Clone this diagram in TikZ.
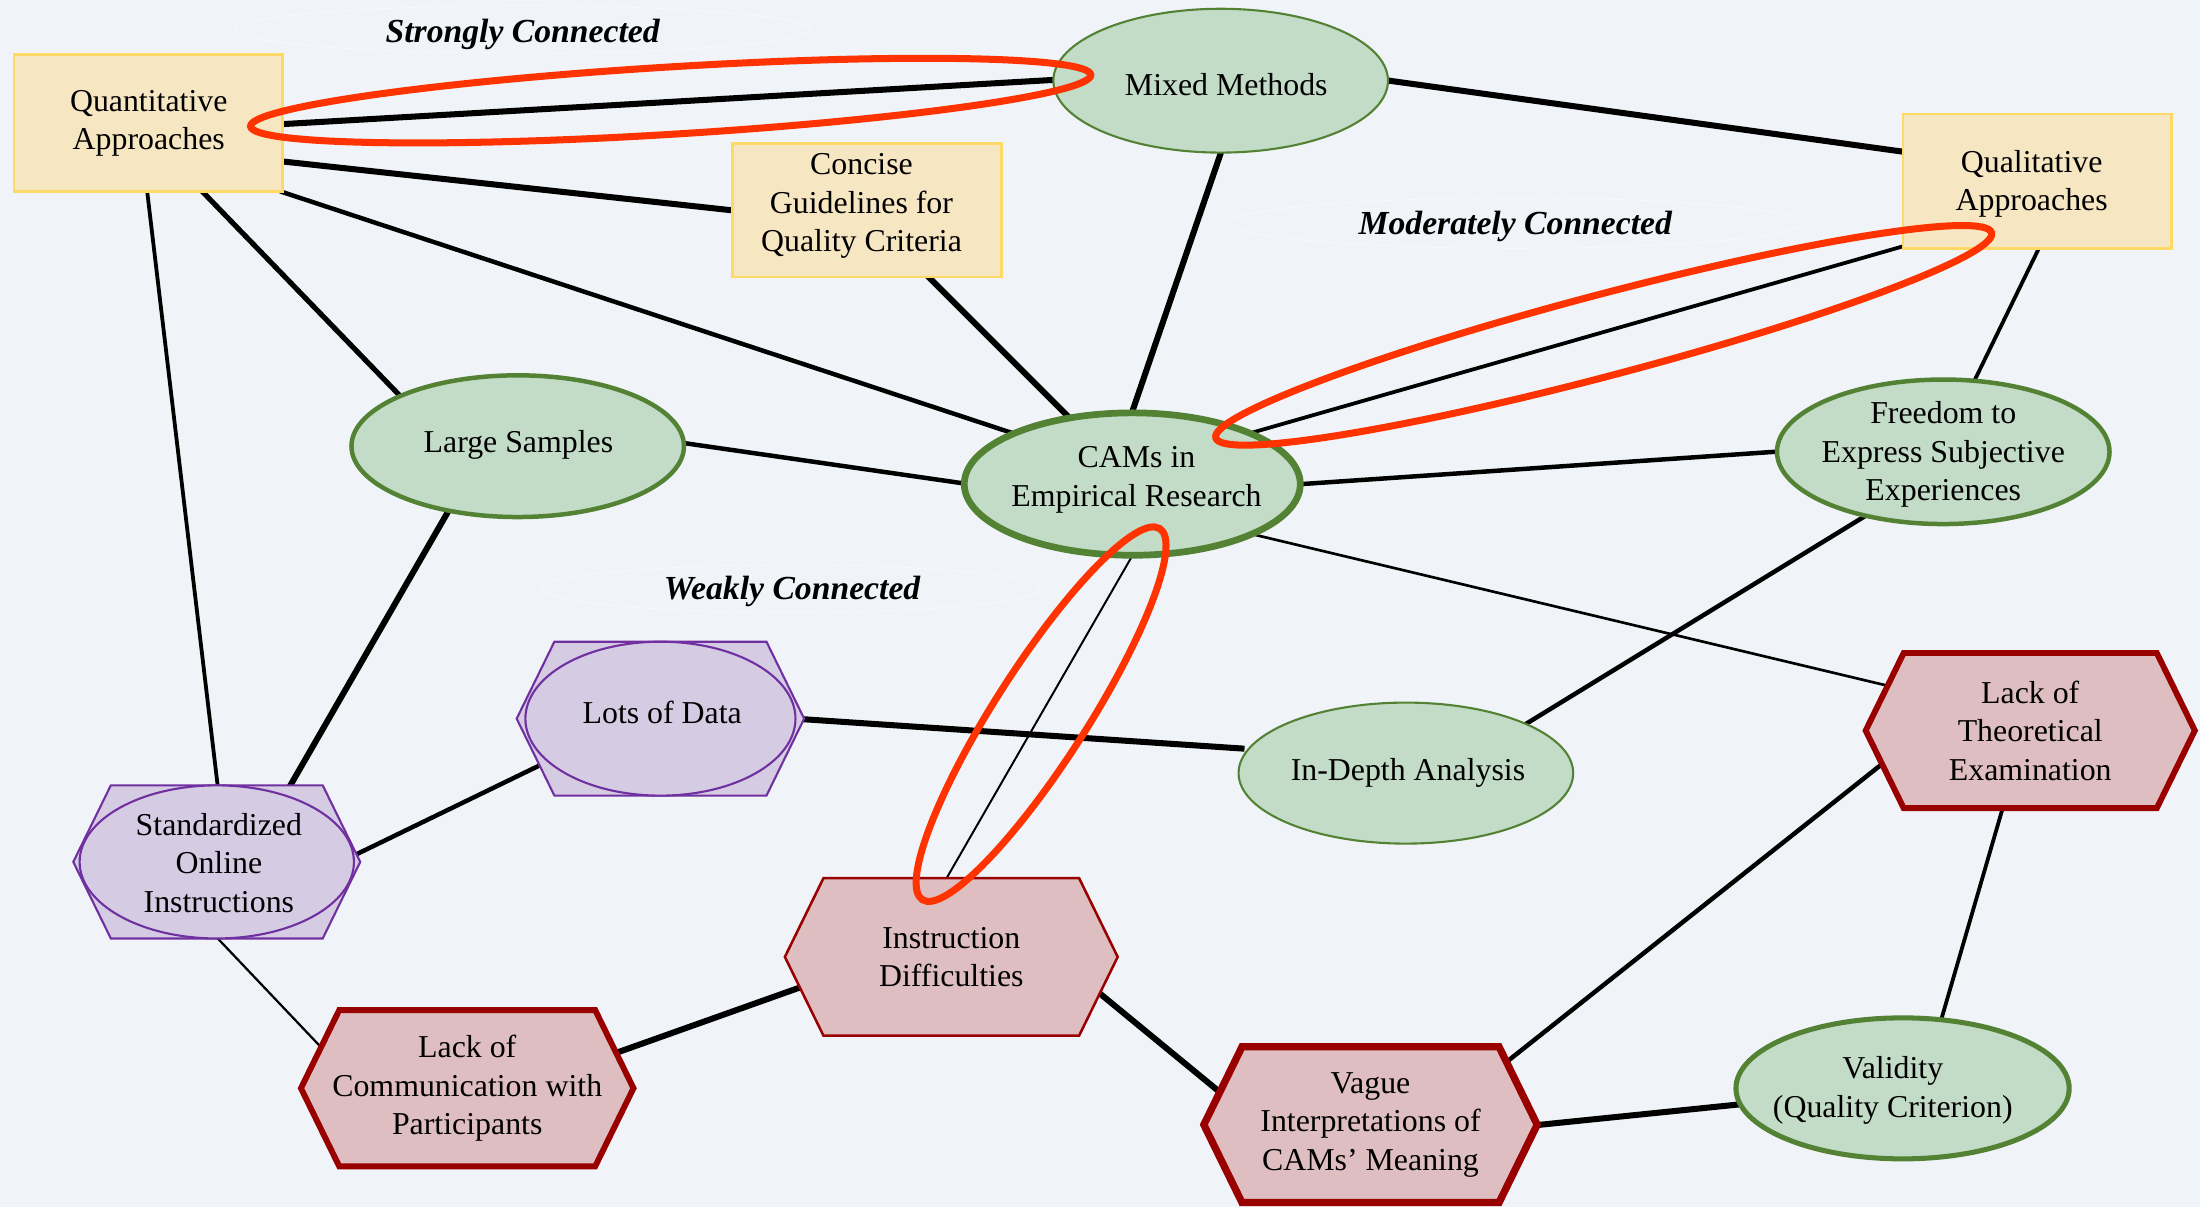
\documentclass[tikz,border=0pt]{standalone}
\usepackage{fontspec}
\setmainfont{Liberation Serif}
\usetikzlibrary{shapes.geometric,calc}

\definecolor{pagebg}{RGB}{240,244,249}
\definecolor{sandfill}{RGB}{246,231,194}
\definecolor{sandline}{RGB}{255,217,102}
\definecolor{sagefill}{RGB}{195,220,199}
\definecolor{sageline}{RGB}{84,130,53}
\definecolor{lilacfill}{RGB}{213,204,228}
\definecolor{lilacline}{RGB}{112,48,160}
\definecolor{rosefill}{RGB}{222,190,192}
\definecolor{roseline}{RGB}{153,0,0}
\definecolor{ringred}{RGB}{255,51,0}

\pgfdeclarelayer{links}
\pgfdeclarelayer{rings}
\pgfsetlayers{links,main,rings}

% flat-topped hexagon: centre x, centre y, half width, half height, style
\newcommand\hexagonat[5]{%
  \path[#5] ({#1-#3},#2) -- ({#1-#3+0.49*#4},{#2-#4}) -- ({#1+#3-0.49*#4},{#2-#4})
    -- ({#1+#3},#2) -- ({#1+#3-0.49*#4},{#2+#4}) -- ({#1-#3+0.49*#4},{#2+#4}) -- cycle;}

\begin{document}
\begin{tikzpicture}[x=1pt,y=-1pt,
  every node/.style={font=\fontsize{22.7}{27.4}\selectfont, align=center, inner sep=0pt, outer sep=0pt},
  sandbox/.style={rectangle, draw=sandline, fill=sandfill, line width=2pt},
  sageoval/.style={ellipse, draw=sageline, fill=sagefill},
  lilacshape/.style={draw=lilacline, fill=lilacfill, line width=1.5pt},
  rosehex/.style={draw=roseline, fill=rosefill, line join=miter},
  conn/.style={line width=#1, shorten <=-3pt, shorten >=-3pt},
  ring/.style={draw=ringred, line width=5pt},
  tagtext/.style={font=\fontsize{24}{28}\selectfont\bfseries\itshape},
  haze/.style={draw=white, line width=0.6pt, opacity=0.45}
]
\useasboundingbox (0,0) rectangle (1568,860);

% ---- method boxes
\node[sandbox, minimum width=191.5, minimum height=97.3] (quant) at (105.7,87.7) {};
\node (quant-t) at (106,88) {Quantitative\\Approaches};
\node[sandbox, minimum width=192, minimum height=95.4] (concise) at (618,149.7) {};
\node (concise-t) at (614,147) {Concise\\Guidelines for\\Quality Criteria};
\node[sandbox, minimum width=191.5, minimum height=96] (qual) at (1452,129.3) {};
\node (qual-t) at (1448,131) {Qualitative\\Approaches};

% ---- green ellipses
\node[sageoval, line width=1.5pt, minimum width=238.5, minimum height=102.5] (mixed) at (870,57.5) {};
\node (mixed-t) at (874,60) {Mixed Methods};
\node[sageoval, line width=4.8pt, minimum width=239.5, minimum height=101.5] (cams) at (807,345) {};
\node (cams-t) at (810,342) {CAMs in\\Empirical Research};
\node[sageoval, line width=3.2pt, minimum width=237, minimum height=101] (large) at (369,318) {};
\node (large-t) at (369.5,317) {Large Samples};
\node[sageoval, line width=3.2pt, minimum width=237, minimum height=103] (freedom) at (1385,322) {};
\node (freedom-t) at (1385,324) {Freedom to\\Express Subjective\\Experiences};
\node[sageoval, line width=1.5pt, minimum width=238.5, minimum height=100.5] (indepth) at (1002,551) {};
\node (indepth-t) at (1003.5,551) {In-Depth Analysis};
\node[sageoval, line width=3.6pt, minimum width=237.5, minimum height=100.5] (valid) at (1356,775.7) {};
\node (valid-t) at (1349,777) {Validity\\(Quality Criterion)};

% ---- purple hexagons with inscribed ellipses
\hexagonat{470.7}{512.2}{102.45}{54.85}{lilacshape}
\node[ellipse, lilacshape, minimum width=192.5, minimum height=109.7] (lots) at (470.7,512.2) {};
\node (lots-t) at (472,508) {Lots of Data};
\hexagonat{154.5}{614.3}{102.25}{54.55}{lilacshape}
\node[ellipse, lilacshape, minimum width=195.5, minimum height=109.1] (stdon) at (154.5,614.3) {};
\node (stdon-t) at (156,615) {Standardized\\Online\\Instructions};

% ---- red hexagons
\hexagonat{1447}{520.7}{117.3}{55.3}{rosehex, line width=4.2pt}
\node (theo) at (1447,520.7) {Lack of\\Theoretical\\Examination};
\hexagonat{678}{682}{118.6}{56.1}{rosehex, line width=1.8pt}
\node (instr) at (678,682) {Instruction\\Difficulties};
\hexagonat{333}{775.6}{118.5}{55.7}{rosehex, line width=4.2pt}
\node (comm) at (333,775.6) {Lack of\\Communication with\\Participants};
\hexagonat{976.8}{801.6}{118.8}{55.5}{rosehex, line width=5.2pt}
\node (vague) at (976.8,801.6) {Vague\\Interpretations of\\CAMs’ Meaning};

% ---- group captions
\node[tagtext] (strong) at (372.5,24.5) {Strongly Connected};
\node[tagtext] (moderate) at (1080,161.5) {Moderately Connected};
\node[tagtext] (weak) at (564.5,421.5) {Weakly Connected};

% ---- background, caption halos and connectors
\begin{pgfonlayer}{links}
  \fill[pagebg] (0,0) rectangle (1568,860);
  \draw[haze] (372.5,21) ellipse [x radius=205, y radius=17];
  \draw[haze] (1080,159) ellipse [x radius=204, y radius=18];
  \draw[haze] (564,419.5) ellipse [x radius=178, y radius=17];

  \draw[conn=4.3pt] ($(quant)+(96.8,0.7)$)   -- ($(mixed)+(-120,-0.5)$);
  \draw[conn=4.3pt] ($(quant)+(96.8,27.5)$)  -- ($(concise)+(-98,0)$);
  \draw[conn=3.2pt] ($(quant)+(96.8,49.6)$)  -- ($(cams)+(-84.7,-36.1)$);
  \draw[conn=3.7pt] ($(quant)+(39.3,49.6)$)  -- ($(large)+(-84,-36)$);
  \draw[conn=2.7pt] ($(quant)+(-0.7,49.6)$)  -- ($(stdon)+(0.5,-55.5)$);
  \draw[conn=4.3pt] ($(mixed)+(120,0)$)      -- ($(qual)+(-96.5,-21.3)$);
  \draw[conn=4.3pt] ($(mixed)+(0,51.8)$)     -- ($(cams)+(0.8,-54)$);
  \draw[conn=4.3pt] ($(concise)+(44.5,48.3)$) -- ($(cams)+(-44.4,-46.8)$);
  \draw[conn=2.7pt] ($(qual)+(-96.5,46.5)$)  -- ($(cams)+(85.2,-36.6)$);
  \draw[conn=2.7pt] ($(qual)+(0.5,49)$)      -- ($(freedom)+(23,-52.3)$);
  \draw[conn=3.2pt] ($(large)+(120,-2)$)     -- ($(cams)+(-120.4,-0.5)$);
  \draw[conn=4.3pt] ($(large)+(-51,49)$)     -- ($(stdon)+(53,-55.5)$);
  \draw[conn=3.2pt] ($(cams)+(120.8,0)$)     -- ($(freedom)+(-120,0)$);
  \draw[conn=1.9pt] ($(cams)+(85,35.6)$)     -- ($(theo)+(-103,-32.3)$);
  \draw[conn=1.4pt] ($(cams)+(-0.4,51.8)$)   -- ($(instr)+(-3,-56.7)$);
  \draw[conn=3.2pt] ($(freedom)+(-57,46.6)$) -- ($(indepth)+(85.5,-35)$);
  \draw[conn=4.3pt] ($(lots)+(103.3,0.5)$)   -- ($(indepth)+(-118,-17.6)$);
  \draw[conn=3.2pt] ($(stdon)+(100.5,-5.9)$) -- ($(lots)+(-86.7,33.6)$);
  \draw[conn=1.6pt] ($(stdon)+(1.5,55.4)$)   -- ($(comm)+(-105.5,-30.6)$);
  \draw[conn=4.3pt] ($(comm)+(109.5,-26.4)$) -- ($(instr)+(-109,22.2)$);
  \draw[conn=4.3pt] ($(instr)+(107,27)$)     -- ($(vague)+(-110.3,-25.6)$);
  \draw[conn=3.2pt] ($(vague)+(99.7,-46.9)$) -- ($(theo)+(-108,25.7)$);
  \draw[conn=4.3pt] ($(vague)+(121.2,0)$)    -- ($(valid)+(-118,11.6)$);
  \draw[conn=2.7pt] ($(theo)+(-20.5,58.2)$)  -- ($(valid)+(28,-50.5)$);
\end{pgfonlayer}

% ---- highlight rings
\begin{pgfonlayer}{rings}
  \draw[ring, rotate around={3.5:(478,71.7)}] (478,71.7) ellipse [x radius=300, y radius=24];
  \draw[ring, rotate around={14.8:(1143,239)}] (1143,239) ellipse [x radius=286, y radius=29];
  \draw[ring, rotate around={57.4:(742,509)}] (742,509) ellipse [x radius=157, y radius=33];
\end{pgfonlayer}
\end{tikzpicture}
\end{document}
